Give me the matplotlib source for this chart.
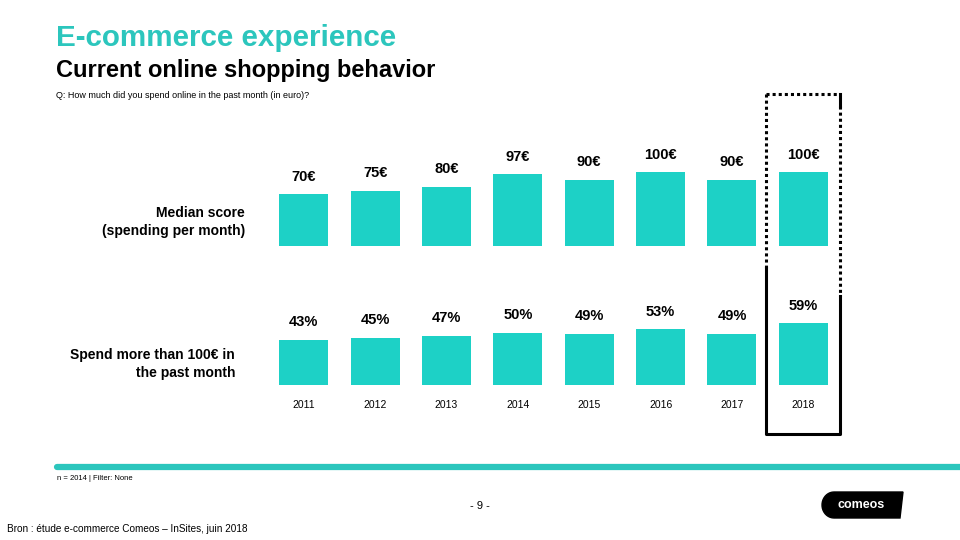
import numpy as np
import matplotlib
matplotlib.use("Agg")
import matplotlib.pyplot as plt
from matplotlib.lines import Line2D
from matplotlib.patches import Polygon

plt.rcParams['font.family'] = ['Liberation Sans', 'DejaVu Sans']

years = ['2011', '2012', '2013', '2014', '2015', '2016', '2017', '2018']
median_spend = [70, 75, 80, 97, 90, 100, 90, 100]
share_over_100 = [43, 45, 47, 50, 49, 53, 49, 59]

teal = '#1dd1c6'
W, H = 960, 540


def fx(x):
    return x / W


def fy(y):
    return 1 - y / H


fig = plt.figure(figsize=(9.6, 5.4), dpi=100)

# titles
fig.text(fx(56), fy(38), 'E-commerce experience', color='#2cc6bd',
         fontsize=21.3, fontweight='bold', va='center')
fig.text(fx(56), fy(70), 'Current online shopping behavior', color='black',
         fontsize=17, fontweight='bold', va='center')
fig.text(fx(56), fy(96), 'Q: How much did you spend online in the past month (in euro)?',
         fontsize=6.5, va='center')


def bar_row(bottom_px, top_px, ymax, values, fmt):
    # axes spanning x index -0.5..7.5
    left, right = 268, 839
    ax = fig.add_axes([fx(left), fy(bottom_px), (right - left) / W,
                       (bottom_px - top_px) / H])
    x = np.arange(len(values))
    ax.bar(x, values, width=0.686, color=teal)
    ax.set_xlim(-0.5, len(values) - 0.5)
    ax.set_ylim(0, ymax)
    ax.axis('off')
    for xi, v in zip(x, values):
        ax.annotate(fmt.format(v), (xi, v), xytext=(0, 12.5),
                    textcoords='offset points', ha='center', va='center',
                    fontsize=10.5, fontweight='bold')
    return ax


# top row: 0.733 px per euro, baseline at y=245.5
bar_row(245.5, 140, (245.5 - 140) / 0.733, median_spend, '{}€')
# bottom row: 1.05 px per percent, baseline at y=385
bar_row(385, 290, (385 - 290) / 1.05, share_over_100, '{}%')

for i, yr in enumerate(years):
    fig.text(fx(303.5 + 71.43 * i), fy(405), yr, fontsize=7.5,
             ha='center', va='center')

fig.text(fx(245), fy(222), 'Median score\n(spending per month)', fontsize=10,
         fontweight='bold', ha='right', va='center', linespacing=1.45)
fig.text(fx(235), fy(364), 'Spend more than 100€ in\nthe past month', fontsize=10,
         fontweight='bold', ha='right', va='center', linespacing=1.45)

# highlight box around 2018
box_l, box_r, box_t, box_b = 766, 840, 94, 434
split = 288
dotted = dict(color='black', linewidth=2.2, linestyle=(0, (1, 1)))
solid = dict(color='black', linewidth=2.2)
fig.add_artist(Line2D([fx(box_l), fx(box_r)], [fy(box_t), fy(box_t)], **dotted))
fig.add_artist(Line2D([fx(box_l), fx(box_l)], [fy(box_t), fy(split - 20)], **dotted))
fig.add_artist(Line2D([fx(box_r), fx(box_r)], [fy(box_t + 12), fy(split + 8)], **dotted))
fig.add_artist(Line2D([fx(box_r), fx(box_r)], [fy(box_t), fy(box_t + 12)], **solid))
fig.add_artist(Line2D([fx(box_l), fx(box_l), fx(box_r), fx(box_r)],
                      [fy(split - 20), fy(box_b), fy(box_b), fy(split + 8)], **solid))

# footer
fig.add_artist(Line2D([fx(57), fx(962)], [fy(467), fy(467)], color='#2cc6bd',
                      linewidth=4.5, solid_capstyle='round'))
fig.text(fx(57), fy(479), 'n = 2014 | Filter: None', fontsize=5.5, va='center')
fig.text(fx(480), fy(506), '- 9 -', fontsize=8, ha='center', va='center')
fig.text(fx(7), fy(529), 'Bron : étude e-commerce Comeos – InSites, juin 2018',
         fontsize=7.2, va='center')

# logo
theta = np.linspace(np.pi / 2, 3 * np.pi / 2, 20)
arc = [(fx(834 + 12 * np.cos(t)), fy(505 - 13 * np.sin(t))) for t in theta]
logo_pts = [(fx(903), fy(492))] + arc + [(fx(900), fy(518))]
fig.add_artist(Polygon(logo_pts, closed=True, color='black',
                       transform=fig.transFigure))
fig.text(fx(861), fy(505), 'comeos', color='white', fontsize=9,
         fontweight='bold', ha='center', va='center')

fig.savefig('out.png', dpi=100)
